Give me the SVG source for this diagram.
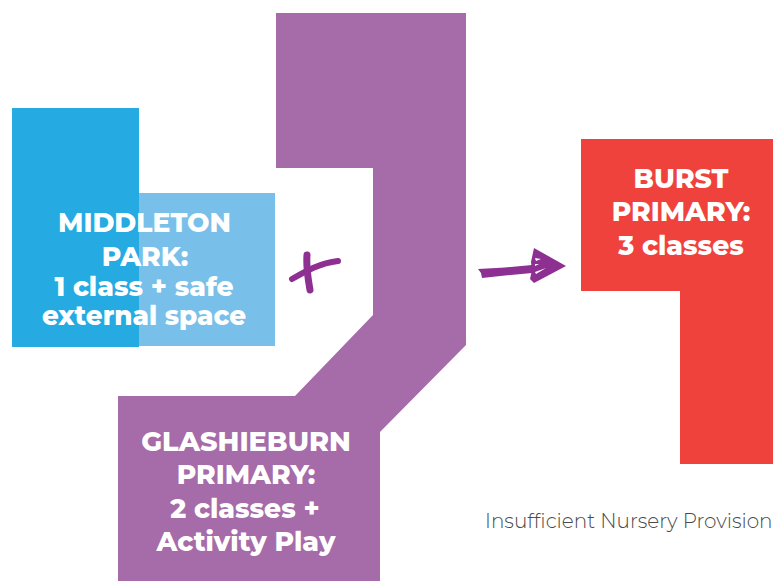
<svg xmlns="http://www.w3.org/2000/svg" width="780" height="581" viewBox="0 0 780 581">
<style>
.l{font-family:"Montserrat","Inter","Liberation Sans",sans-serif;font-weight:800;font-size:26.6px;fill:#fff;text-anchor:middle}
.m{stroke:#8e2f92;fill:none;stroke-linecap:round;stroke-linejoin:round}
</style>
<rect width="780" height="581" fill="#fff"/>
<g id="middleton">
<rect x="139" y="193" width="136" height="153" fill="#78bfea"/>
<rect x="12" y="108" width="127" height="239" fill="#25aae2"/>
<text class="l" x="144.500" y="232">MIDDLETON</text>
<text class="l" x="145" y="266">PARK:</text>
<text class="l" x="144" y="296">1 class + safe</text>
<text class="l" x="144" y="325" style="font-size:26.2px">external space</text>
</g>
<g id="glashieburn">
<path d="M276 13H466V345L380 432V581H118V396H295L373 315V168H276Z" fill="#a66ba9"/>
<text class="l" x="246" y="451" style="font-size:27.1px">GLASHIEBURN</text>
<text class="l" x="246" y="484">PRIMARY:</text>
<text class="l" x="245" y="518">2 classes +</text>
<text class="l" x="246" y="551">Activity Play</text>
</g>
<g id="burst">
<path d="M581 139H773V464H680V291H581Z" fill="#ef423d"/>
<text class="l" x="681" y="188">BURST</text>
<text class="l" x="681" y="221">PRIMARY:</text>
<text class="l" x="681" y="255">3 classes</text>
</g>
<g id="connectors">
<path class="m" stroke-width="6" d="M292 279C306 271 320 263 338 261"/>
<path class="m" stroke-width="7" d="M307 255C306 268 308 278 310 290"/>
<path d="M478 269L505 267.500L532 265L532 273L505 275.500L482 278L481 273Z" fill="#8e2f92"/>
<path d="M534 248L566 266L534 283L530 279L532 270L531 262Z" fill="#8e2f92"/>
<path d="M535 258L541 259L536 261ZM535 264L539 264L535 266ZM535 272L546 268L536 274Z" fill="#fff"/>
</g>
<text x="485" y="528" font-family="Montserrat,'Inter','Liberation Sans',sans-serif" font-weight="300" font-size="20" fill="#4a4a4a">Insufficient Nursery Provision</text>
</svg>
